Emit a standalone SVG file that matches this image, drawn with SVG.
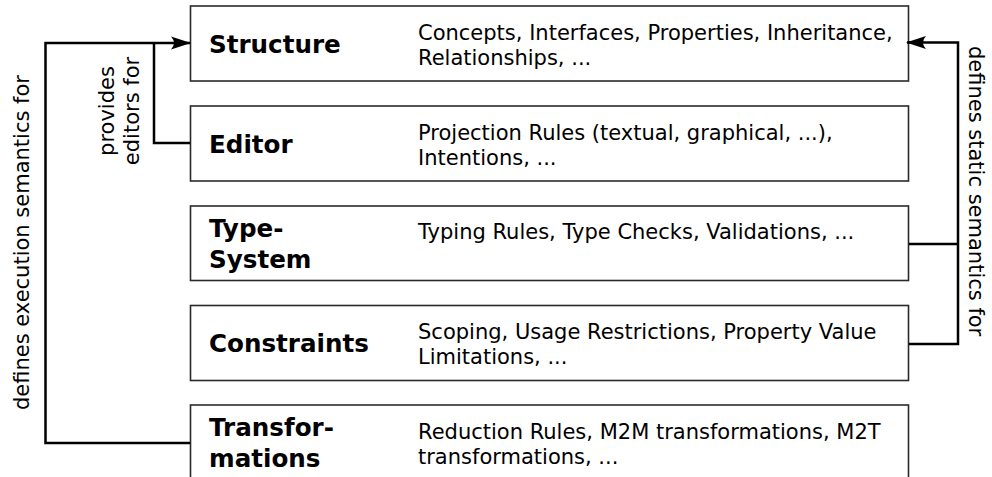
<svg xmlns="http://www.w3.org/2000/svg" width="992" height="477" viewBox="0 0 992 477">
<style>
.box{fill:#fff;stroke:#2a2a2a;stroke-width:1.6}
.title{font-family:"DejaVu Sans",sans-serif;font-weight:bold;font-size:24.6px;fill:#000}
.desc{font-family:"DejaVu Sans",sans-serif;font-size:21px;fill:#000}
.lbl{font-family:"DejaVu Sans",sans-serif;font-size:21px;fill:#000}
.conn{fill:none;stroke:#000;stroke-width:2.5}
</style>
<defs>
<marker id="arr" viewBox="0 0 20 14" refX="19" refY="7" markerWidth="20" markerHeight="14" markerUnits="userSpaceOnUse" orient="auto">
<path d="M20,7 L0,0.5 Q6,7 0,13.5 Z" fill="#000"/>
</marker>
</defs>
<rect width="992" height="477" fill="#fff"/>
<g id="structure">
<rect class="box" x="190.5" y="6" width="718" height="75"/>
<text class="title" x="209" y="53">Structure</text>
<text class="desc" x="418" y="39.5">Concepts, Interfaces, Properties, Inheritance,</text>
<text class="desc" x="418" y="64.5">Relationships, ...</text>
</g>
<g id="editor">
<rect class="box" x="190.5" y="106" width="718" height="75"/>
<text class="title" x="209" y="153">Editor</text>
<text class="desc" x="418" y="139.5">Projection Rules (textual, graphical, ...),</text>
<text class="desc" x="418" y="164.5">Intentions, ...</text>
</g>
<g id="typesystem">
<rect class="box" x="190.5" y="206" width="718" height="74.5"/>
<text class="title" x="209" y="237">Type-</text>
<text class="title" x="209" y="268">System</text>
<text class="desc" x="418" y="239">Typing Rules, Type Checks, Validations, ...</text>
</g>
<g id="constraints">
<rect class="box" x="190.5" y="305.5" width="718" height="75"/>
<text class="title" x="209" y="352">Constraints</text>
<text class="desc" x="418" y="339">Scoping, Usage Restrictions, Property Value</text>
<text class="desc" x="418" y="364">Limitations, ...</text>
</g>
<g id="transformations">
<rect class="box" x="190.5" y="405" width="718" height="80"/>
<text class="title" x="209" y="436">Transfor-</text>
<text class="title" x="209" y="467">mations</text>
<text class="desc" x="418" y="439">Reduction Rules, M2M transformations, M2T</text>
<text class="desc" x="418" y="464">transformations, ...</text>
</g>
<g id="connectors">
<path class="conn" d="M190,443 H45.5 V43 H190" marker-end="url(#arr)"/>
<path class="conn" d="M190,143 H154 V43"/>
<path class="conn" d="M909,344 H958 V42.5 H907" marker-end="url(#arr)"/>
<path class="conn" d="M909,244 H958"/>
</g>
<g id="labels">
<text class="lbl" transform="translate(28.5,410) rotate(-90)">defines execution semantics for</text>
<text class="lbl" text-anchor="middle" transform="translate(114,111) rotate(-90)">provides</text>
<text class="lbl" text-anchor="middle" transform="translate(139,111) rotate(-90)">editors for</text>
<text class="lbl" transform="translate(969,46) rotate(90)">defines static semantics for</text>
</g>
</svg>
